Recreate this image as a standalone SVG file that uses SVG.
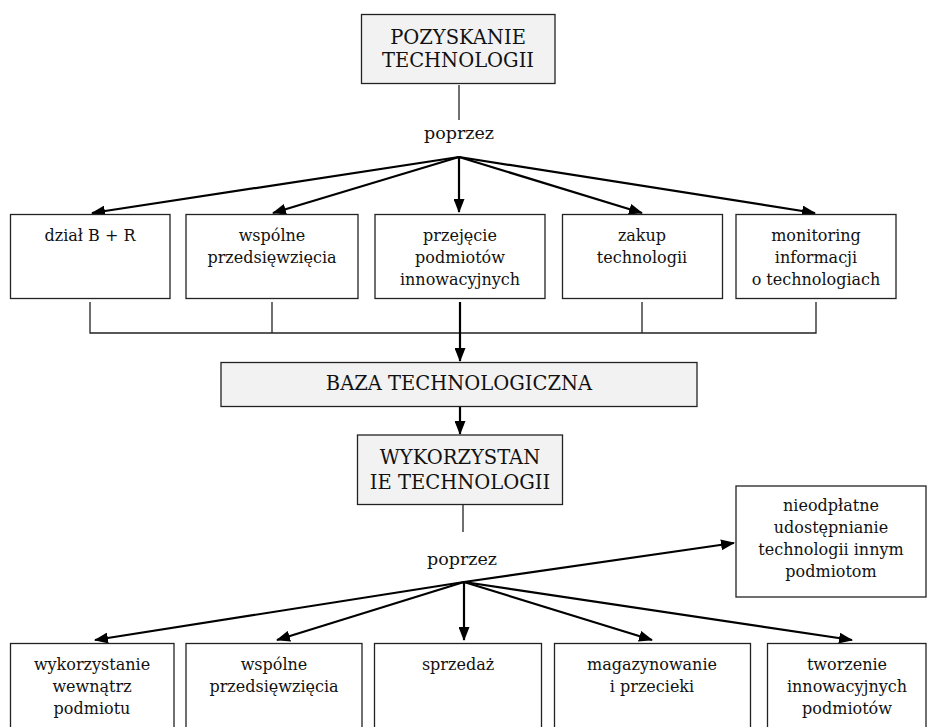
<svg xmlns="http://www.w3.org/2000/svg" width="927" height="727" viewBox="0 0 927 727">
<defs>
<marker id="ah" viewBox="0 0 14 11" refX="13" refY="5.5" markerWidth="14" markerHeight="11" markerUnits="userSpaceOnUse" orient="auto">
<path d="M0,0 L14,5.5 L0,11 Z" fill="#000"/>
</marker>
<style>
.box{fill:#fff;stroke:#222;stroke-width:1.3}
.gbox{fill:#f2f2f2;stroke:#222;stroke-width:1.3}
.t{font-size:16px;fill:#111;text-anchor:middle}
.h{font-size:19.5px;fill:#111;text-anchor:middle}
.p{font-size:17.5px;fill:#111;text-anchor:middle}
.thin{stroke:#222;stroke-width:1.3;fill:none}
.arr{stroke:#000;stroke-width:2.2;fill:none;marker-end:url(#ah)}
</style>
</defs>
<rect width="927" height="727" fill="#fff"/>

<g id="connectors">
<line class="thin" x1="459" y1="85" x2="459" y2="120"/>
<line class="arr" x1="459" y1="157" x2="92" y2="213"/>
<line class="arr" x1="459" y1="157" x2="273" y2="213"/>
<line class="arr" x1="459" y1="157" x2="459" y2="212"/>
<line class="arr" x1="459" y1="157" x2="642" y2="213"/>
<line class="arr" x1="459" y1="157" x2="815" y2="213"/>
<polyline class="thin" points="90,302 90,333 816,333 816,302"/>
<line class="thin" x1="272" y1="302" x2="272" y2="333"/>
<line class="thin" x1="642" y1="302" x2="642" y2="333"/>
<line class="arr" x1="460" y1="302" x2="460" y2="361"/>
<line class="arr" x1="460" y1="407" x2="460" y2="434"/>
<line class="thin" x1="463" y1="505" x2="463" y2="532"/>
<line class="arr" x1="464" y1="582" x2="95" y2="640"/>
<line class="arr" x1="464" y1="582" x2="277" y2="640"/>
<line class="arr" x1="464" y1="582" x2="464" y2="640"/>
<line class="arr" x1="464" y1="582" x2="652" y2="640"/>
<line class="arr" x1="464" y1="582" x2="852" y2="640"/>
<line class="arr" x1="464" y1="582" x2="734" y2="543"/>
</g>

<g font-family="DejaVu Serif">
<g id="pozyskanie">
<rect class="gbox" x="361.5" y="14.5" width="193.5" height="69"/>
<text class="h" x="458" y="44">POZYSKANIE</text>
<text class="h" x="458" y="67">TECHNOLOGII</text>
</g>
<g id="poprzez1"><text class="p" x="459" y="139">poprzez</text></g>

<g id="dzial"><rect class="box" x="10.5" y="214.5" width="159.5" height="84"/>
<text class="t" x="90" y="241">dział B + R</text></g>
<g id="wspolne1"><rect class="box" x="186" y="214.5" width="172" height="84"/>
<text class="t" x="272" y="241">wspólne</text><text class="t" x="272" y="263">przedsięwzięcia</text></g>
<g id="przejecie"><rect class="box" x="375" y="214.5" width="170" height="84"/>
<text class="t" x="460" y="241">przejęcie</text><text class="t" x="460" y="263">podmiotów</text><text class="t" x="460" y="285">innowacyjnych</text></g>
<g id="zakup"><rect class="box" x="562.5" y="214.5" width="160" height="84"/>
<text class="t" x="642" y="241">zakup</text><text class="t" x="642" y="263">technologii</text></g>
<g id="monitoring"><rect class="box" x="736" y="214.5" width="160" height="84"/>
<text class="t" x="816" y="241">monitoring</text><text class="t" x="816" y="263">informacji</text><text class="t" x="816" y="285">o technologiach</text></g>

<g id="baza"><rect class="gbox" x="221" y="362.5" width="476" height="44"/>
<text class="h" x="459" y="390">BAZA TECHNOLOGICZNA</text></g>

<g id="wykorzystanie"><rect class="gbox" x="357.5" y="435" width="205" height="69.5"/>
<text class="h" x="460" y="464">WYKORZYSTAN</text>
<text class="h" x="460" y="489">IE TECHNOLOGII</text></g>
<g id="poprzez2"><text class="p" x="462" y="565">poprzez</text></g>

<g id="nieodplatne"><rect class="box" x="736" y="486" width="190" height="111"/>
<text class="t" x="831" y="511">nieodpłatne</text><text class="t" x="831" y="533">udostępnianie</text><text class="t" x="831" y="555">technologii innym</text><text class="t" x="831" y="577">podmiotom</text></g>

<g id="wewnatrz"><rect class="box" x="10.5" y="643.5" width="163.5" height="100"/>
<text class="t" x="92" y="670">wykorzystanie</text><text class="t" x="92" y="692">wewnątrz</text><text class="t" x="92" y="714">podmiotu</text></g>
<g id="wspolne2"><rect class="box" x="186" y="643.5" width="176" height="100"/>
<text class="t" x="274" y="670">wspólne</text><text class="t" x="274" y="692">przedsięwzięcia</text></g>
<g id="sprzedaz"><rect class="box" x="374.5" y="643.5" width="167" height="100"/>
<text class="t" x="458" y="670">sprzedaż</text></g>
<g id="magazynowanie"><rect class="box" x="554.5" y="643.5" width="196" height="100"/>
<text class="t" x="652" y="670">magazynowanie</text><text class="t" x="652" y="692">i przecieki</text></g>
<g id="tworzenie"><rect class="box" x="767.5" y="643.5" width="158.5" height="100"/>
<text class="t" x="847" y="670">tworzenie</text><text class="t" x="847" y="692">innowacyjnych</text><text class="t" x="847" y="714">podmiotów</text></g>
</g>
</svg>
